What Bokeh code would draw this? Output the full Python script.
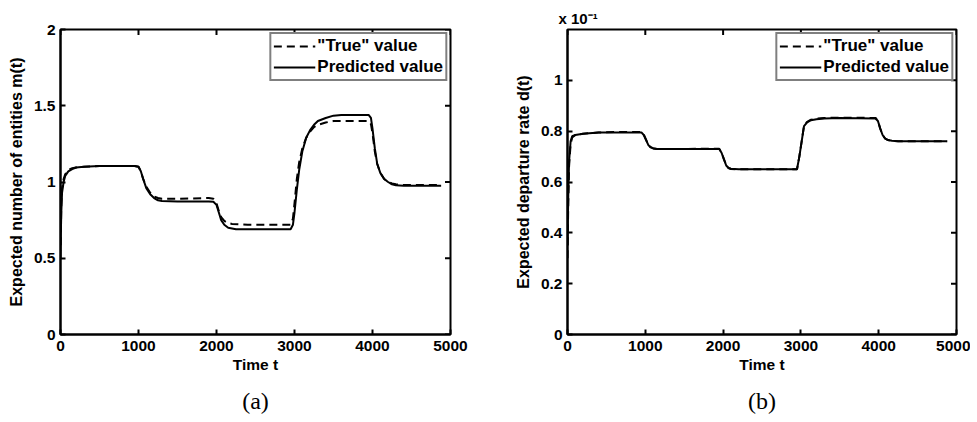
from bokeh.plotting import figure
from bokeh.models import FixedTicker, Range1d, Legend, LegendItem, Title
from bokeh.layouts import row
from bokeh.embed import file_html
from bokeh.resources import INLINE
import math

# ---------------- data ----------------
# panel (a): expected number of entities m(t)
t_m_pred = [0, 10, 20, 40, 60, 100, 150, 200, 300, 500, 800, 950, 1000, 1030, 1060,
            1100, 1150, 1200, 1250, 1300, 1500, 1900, 1960, 2000, 2030, 2060, 2100, 2150, 2200, 2250,
            2400, 2900, 2950, 2980, 3000, 3030, 3060, 3100, 3150, 3200, 3250, 3300, 3400, 3500, 3600,
            3700, 3950, 3980, 4000, 4030, 4060, 4100, 4150, 4200, 4250, 4300, 4400, 4600, 4880]
m_pred = [0.55, 0.80, 0.93, 1.00, 1.04, 1.07, 1.085, 1.095, 1.10, 1.105, 1.105, 1.105, 1.10, 1.07, 1.02,
          0.96, 0.92, 0.895, 0.88, 0.875, 0.872, 0.872, 0.87, 0.85, 0.80, 0.75, 0.72, 0.70, 0.695, 0.69,
          0.69, 0.69, 0.69, 0.72, 0.80, 0.95, 1.08, 1.20, 1.29, 1.34, 1.375, 1.40, 1.42, 1.435, 1.44,
          1.44, 1.44, 1.42, 1.35, 1.22, 1.12, 1.06, 1.02, 1.0, 0.985, 0.978, 0.975, 0.975, 0.975]

t_m_true = [0, 10, 20, 40, 60, 100, 150, 200, 300, 500, 800, 950, 1000, 1030, 1060,
            1100, 1150, 1200, 1250, 1300, 1500, 1900, 1960, 2000, 2030, 2060, 2100, 2150, 2200, 2400,
            2900, 2950, 2980, 3000, 3030, 3060, 3100, 3150, 3200, 3250, 3300, 3400, 3500, 3700, 3950,
            3980, 4000, 4030, 4060, 4100, 4150, 4200, 4250, 4300, 4400, 4600, 4880]
m_true = [0.50, 0.85, 0.96, 1.02, 1.05, 1.08, 1.09, 1.095, 1.10, 1.105, 1.105, 1.105, 1.10, 1.07, 1.02,
          0.97, 0.93, 0.905, 0.895, 0.89, 0.89, 0.895, 0.89, 0.86, 0.81, 0.77, 0.745, 0.73, 0.725, 0.72,
          0.72, 0.72, 0.76, 0.86, 1.02, 1.13, 1.22, 1.29, 1.33, 1.36, 1.375, 1.39, 1.40, 1.40, 1.40,
          1.38, 1.32, 1.20, 1.12, 1.06, 1.02, 1.0, 0.99, 0.985, 0.98, 0.98, 0.98]

# panel (b): expected departure rate d(t), in units of 10^-1
t_d = [0, 10, 20, 40, 60, 100, 200, 400, 700, 950, 980, 1010, 1040, 1070, 1100,
       1150, 1200, 1500, 1950, 1980, 2010, 2040, 2070, 2100, 2200, 2500, 2950, 2980, 3010, 3040,
       3080, 3130, 3200, 3300, 3500, 3960, 3990, 4020, 4050, 4080, 4120, 4170, 4250, 4400, 4880]
d_pred = [0.35, 0.55, 0.68, 0.76, 0.78, 0.785, 0.79, 0.795, 0.795, 0.795, 0.785, 0.765, 0.745, 0.737, 0.733,
          0.73, 0.73, 0.73, 0.73, 0.715, 0.69, 0.665, 0.655, 0.652, 0.65, 0.65, 0.65, 0.70, 0.76, 0.82,
          0.835, 0.843, 0.847, 0.85, 0.852, 0.85, 0.84, 0.81, 0.785, 0.772, 0.765, 0.762, 0.76, 0.76, 0.76]
d_true = [0.30, 0.52, 0.66, 0.75, 0.775, 0.785, 0.79, 0.795, 0.797, 0.797, 0.787, 0.767, 0.745, 0.736, 0.732,
          0.73, 0.73, 0.73, 0.731, 0.716, 0.69, 0.666, 0.655, 0.651, 0.65, 0.65, 0.65, 0.70, 0.76, 0.822,
          0.837, 0.845, 0.849, 0.852, 0.853, 0.852, 0.84, 0.81, 0.785, 0.772, 0.765, 0.762, 0.76, 0.76, 0.76]

x_ticks = [0, 1000, 2000, 3000, 4000, 5000]
x_tick_labels = ["0", "1000", "2000", "3000", "4000", "5000"]
ya_ticks = [0, 0.5, 1, 1.5, 2]
ya_tick_labels = ["0", "0.5", "1", "1.5", "2"]
yb_ticks = [0, 0.2, 0.4, 0.6, 0.8, 1.0]
yb_tick_labels = ["0", "0.2", "0.4", "0.6", "0.8", "1"]

legend_labels = ['"True" value', "Predicted value"]
x_label = "Time t"
ya_label = "Expected number of entities m(t)"
yb_label = "Expected departure rate d(t)"
yb_exponent = "x 10\u207b\u00b9"

FONT = "Liberation Sans"
SERIF = "Liberation Serif"


def make_panel(tt_true, yy_true, tt_pred, yy_pred, xmax, ymax, yticks, ylabels,
               ylabel, caption, bl, br, fw):
    p = figure(width=bl + fw + br, height=422, frame_width=fw, frame_height=305,
               min_border_left=bl, min_border_right=br, min_border_top=29, min_border_bottom=88,
               x_range=Range1d(0, xmax), y_range=Range1d(0, ymax),
               output_backend="svg", toolbar_location=None)
    p.background_fill_color = "white"
    p.border_fill_color = "white"
    p.grid.visible = False
    p.outline_line_color = "black"
    p.outline_line_width = 2
    p.outline_line_alpha = 1

    r1 = p.line(tt_true, yy_true, line_color="black", line_width=2, line_dash="8 5")
    r2 = p.line(tt_pred, yy_pred, line_color="black", line_width=2)

    # inward ticks on the top and right edges of the box (half of each mark is clipped by the frame)
    p.scatter(x_ticks, [ymax] * len(x_ticks), marker="dash", size=11, angle=math.pi / 2,
              line_color="black", line_width=2)
    p.scatter([xmax] * len(yticks), yticks, marker="dash", size=11, angle=0,
              line_color="black", line_width=2)

    p.xaxis.ticker = FixedTicker(ticks=x_ticks)
    p.yaxis.ticker = FixedTicker(ticks=yticks)
    p.xaxis.major_label_overrides = {v: s for v, s in zip(x_ticks, x_tick_labels)}
    p.yaxis.major_label_overrides = {v: s for v, s in zip(yticks, ylabels)}
    for ax in (p.xaxis[0], p.yaxis[0]):
        ax.axis_line_width = 2
        ax.axis_line_color = "black"
        ax.major_tick_in = 5
        ax.major_tick_out = 0
        ax.major_tick_line_width = 2
        ax.minor_tick_line_color = None
        ax.major_label_text_font = FONT
        ax.major_label_text_font_style = "bold"
        ax.major_label_text_font_size = "15.5px"
        ax.major_label_text_color = "black"
        ax.axis_label_text_font = FONT
        ax.axis_label_text_font_style = "bold"
        ax.axis_label_text_color = "black"
    p.xaxis.major_label_standoff = 6
    p.yaxis.major_label_standoff = 5
    p.xaxis.axis_label = x_label
    p.xaxis.axis_label_text_font_size = "15.5px"
    p.xaxis.axis_label_standoff = 2
    p.yaxis.axis_label = ylabel
    p.yaxis.axis_label_text_font_size = "16px"
    p.yaxis.axis_label_standoff = 6

    legend = Legend(items=[LegendItem(label=legend_labels[0], renderers=[r1]),
                           LegendItem(label=legend_labels[1], renderers=[r2])],
                    location="top_right", margin=3, padding=2, spacing=1,
                    glyph_width=42, glyph_height=20, label_height=20, label_standoff=2,
                    label_text_font=FONT, label_text_font_style="bold",
                    label_text_font_size="17px", label_text_color="black",
                    border_line_color="black", border_line_width=2,
                    background_fill_color="white", background_fill_alpha=1)
    p.add_layout(legend, "center")

    cap = Title(text=caption, align="center", text_font=SERIF, text_font_size="24px",
                text_font_style="normal", text_color="black", standoff=20)
    p.add_layout(cap, "below")
    return p


p1 = make_panel(t_m_true, m_true, t_m_pred, m_pred, 5000, 2, ya_ticks, ya_tick_labels,
                ya_label, "(a)", 60, 40, 390)
p2 = make_panel(t_d, d_true, t_d, d_pred, 5000, 1.2, yb_ticks, yb_tick_labels,
                yb_label, "(b)", 77, 14, 389)

# exponent label of panel (b)
p2.add_layout(Title(text=yb_exponent, align="left", offset=-9, text_font=FONT,
                    text_font_style="bold", text_font_size="15px", text_color="black",
                    standoff=5), "above")

layout = row(p1, p2)
open("out.html", "w").write(file_html(layout, INLINE))
